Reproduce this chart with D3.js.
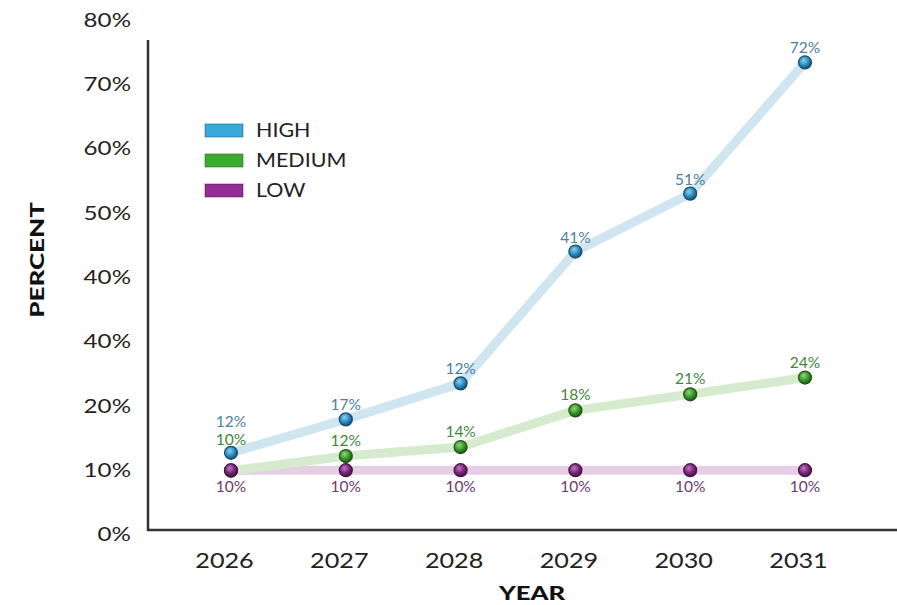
<!DOCTYPE html>
<html>
<head>
<meta charset="utf-8">
<script src="https://cdn.jsdelivr.net/npm/d3@7"></script>
<style>
  html, body { margin: 0; padding: 0; background: #fff; }
  svg { display: block; font-family: Lato, "Noto Sans", sans-serif; }
</style>
</head>
<body>
<svg id="chart" width="897" height="605"></svg>
<script>
// Years on the horizontal axis
const years = ["2026", "2027", "2028", "2029", "2030", "2031"];

// Plotted values (percent) for each scenario
const highValues   = [12.7, 17.9, 23.5, 44.0, 53.0, 73.4];
const mediumValues = [9.9, 12.2, 13.6, 19.3, 21.8, 24.4];
const lowValues    = [10, 10, 10, 10, 10, 10];

// Point annotations as printed next to each marker
const highLabels   = ["12%", "17%", "12%", "41%", "51%", "72%"];
const mediumLabels = ["10%", "12%", "14%", "18%", "21%", "24%"];
const lowLabels    = ["10%", "10%", "10%", "10%", "10%", "10%"];

// Vertical axis ticks and their printed labels
const yTickValues = [0, 10, 20, 30, 40, 50, 60, 70, 80];
const yTickLabels = ["0%", "10%", "20%", "40%", "40%", "50%", "60%", "70%", "80%"];

const seriesNames = ["HIGH", "MEDIUM", "LOW"];

const styles = {
  HIGH:   { line: "#cfe5f0", dot: "#2c8fc4", dotDark: "#1a4d6c", dotLight: "#8fd0f0", swatch: "#3aa8dc", label: "#4d7f9f" },
  MEDIUM: { line: "#d6ebcd", dot: "#3c9b2c", dotDark: "#1f5516", dotLight: "#8fd67a", swatch: "#3aad2c", label: "#3f873a" },
  LOW:    { line: "#e6cee5", dot: "#7c2a7c", dotDark: "#451445", dotLight: "#c27ac2", swatch: "#952c95", label: "#6e3a6e" }
};

const series = {
  HIGH:   { values: highValues,   labels: highLabels },
  MEDIUM: { values: mediumValues, labels: mediumLabels },
  LOW:    { values: lowValues,    labels: lowLabels }
};

const svg = d3.select("#chart");

const x = d3.scalePoint().domain(years).range([231, 805]);
const y = d3.scaleLinear().domain([0, 80]).range([534.5, 20]);

// Glossy marker gradients
const defs = svg.append("defs");
seriesNames.forEach(name => {
  const st = styles[name];
  const g = defs.append("radialGradient")
    .attr("id", "grad-" + name)
    .attr("cx", "40%").attr("cy", "35%").attr("r", "65%");
  g.append("stop").attr("offset", "0%").attr("stop-color", st.dotLight);
  g.append("stop").attr("offset", "55%").attr("stop-color", st.dot);
  g.append("stop").attr("offset", "100%").attr("stop-color", st.dotDark);
});

// Axis frame
svg.append("line")
  .attr("x1", 148).attr("x2", 148).attr("y1", 40).attr("y2", 531)
  .attr("stroke", "#333").attr("stroke-width", 2.5);
svg.append("line")
  .attr("x1", 147).attr("x2", 897).attr("y1", 530).attr("y2", 530)
  .attr("stroke", "#333").attr("stroke-width", 2.5);

// Y tick labels (wide geometric look via horizontal stretch)
const yAxis = d3.axisLeft(y)
  .tickValues(yTickValues)
  .tickSize(0)
  .tickPadding(0)
  .tickFormat((d, i) => yTickLabels[i]);
const yg = svg.append("g").attr("transform", "translate(131,0)").call(yAxis);
yg.select(".domain").remove();
yg.selectAll("text")
  .attr("font-family", "Lato, sans-serif")
  .attr("font-size", 19.5)
  .attr("fill", "#222")
  .attr("transform", "scale(1.24,1)");

// X tick labels
const xAxis = d3.axisBottom(x).tickSize(0).tickPadding(0);
const xg = svg.append("g").attr("transform", "translate(-7,553)").call(xAxis);
xg.select(".domain").remove();
xg.selectAll("text")
  .attr("font-family", "Lato, sans-serif")
  .attr("font-size", 21)
  .attr("fill", "#222")
  .attr("transform", "scale(1.2,1)");

// Axis titles
svg.append("text")
  .attr("transform", "translate(532,600) scale(1.35,1)")
  .attr("text-anchor", "middle")
  .attr("font-size", 19).attr("font-weight", 900)
  .attr("fill", "#111")
  .text("YEAR");
svg.append("text")
  .attr("transform", "translate(44,260) rotate(-90) scale(1.37,1)")
  .attr("text-anchor", "middle")
  .attr("font-size", 19).attr("font-weight", 900)
  .attr("fill", "#111")
  .text("PERCENT");

// Lines
const line = d3.line()
  .x((d, i) => x(years[i]))
  .y(d => y(d));

["LOW", "MEDIUM", "HIGH"].forEach(name => {
  svg.append("path")
    .datum(series[name].values)
    .attr("d", line)
    .attr("fill", "none")
    .attr("stroke", styles[name].line)
    .attr("stroke-width", 9)
    .attr("stroke-linejoin", "round")
    .attr("stroke-linecap", "round");
});

// Markers (low sits above medium where they coincide)
["MEDIUM", "LOW", "HIGH"].forEach(name => {
  svg.append("g")
    .selectAll("circle")
    .data(series[name].values)
    .join("circle")
    .attr("cx", (d, i) => x(years[i]))
    .attr("cy", d => y(d))
    .attr("r", 6.5)
    .attr("fill", "url(#grad-" + name + ")")
    .attr("stroke", styles[name].dotDark)
    .attr("stroke-width", 1.2);
});

// Value annotations
const labelFont = 14.5;
years.forEach((yr, i) => {
  const cx = x(yr);
  const yHigh = y(highValues[i]);
  const yMed = y(mediumValues[i]);
  const yLow = y(lowValues[i]);

  let medBase = yMed - 10;
  let highBase = yHigh - 9;
  // when the medium marker sits right under the high one, stack both annotations above
  if (Math.abs(yMed - yHigh) < 25) {
    medBase = yHigh - 8;
    highBase = medBase - 18;
  }

  const add = (name, text, base) => {
    svg.append("text")
      .attr("transform", `translate(${cx},${base}) scale(1.07,1)`)
      .attr("text-anchor", "middle")
      .attr("font-size", labelFont)
      .attr("fill", styles[name].label)
      .text(text);
  };
  add("HIGH", highLabels[i], highBase);
  add("MEDIUM", mediumLabels[i], medBase);
  add("LOW", lowLabels[i], yLow + 22);
});

// Legend
const legend = svg.append("g").attr("transform", "translate(205,124)");
seriesNames.forEach((name, i) => {
  const row = legend.append("g").attr("transform", `translate(0,${i * 30})`);
  row.append("rect")
    .attr("width", 38).attr("height", 13)
    .attr("fill", styles[name].swatch)
    .attr("stroke", styles[name].dotDark)
    .attr("stroke-opacity", 0.5)
    .attr("stroke-width", 1);
  row.append("text")
    .attr("transform", "translate(51,13) scale(1.13,1)")
    .attr("font-size", 19)
    .attr("fill", "#222")
    .text(name);
});
</script>
</body>
</html>
